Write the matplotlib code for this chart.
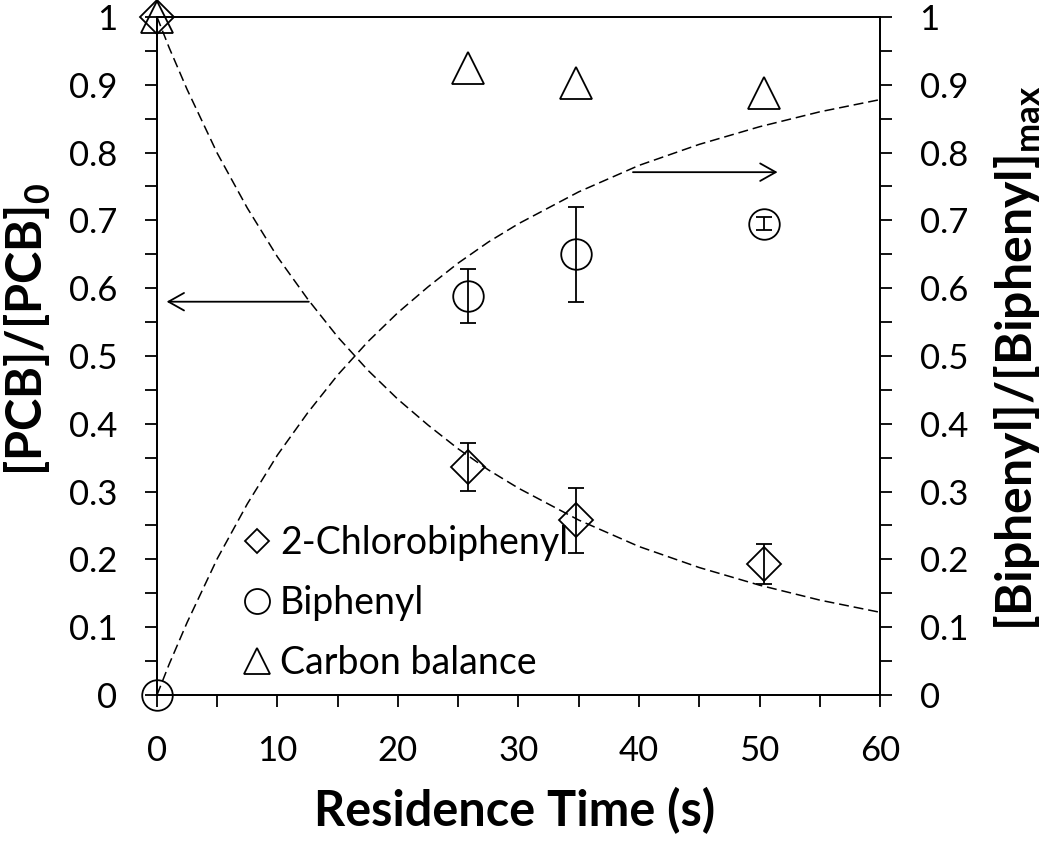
import matplotlib
matplotlib.use("Agg")
import matplotlib.pyplot as plt
from matplotlib.lines import Line2D
from matplotlib.ticker import MultipleLocator

plt.rcParams['font.family'] = ['Lato', 'DejaVu Sans']

# measured points
time_s = [0, 25.8, 34.8, 50.4]
chloro = [1.0, 0.336, 0.258, 0.193]
chloro_err = [0.0, 0.035, 0.048, 0.029]
biphenyl = [0.0, 0.588, 0.650, 0.695]
biphenyl_err = [0.0, 0.040, 0.070, 0.010]
carbon = [1.0, 0.925, 0.903, 0.888]

# model curves
fit_t = [0, 1, 2.5, 5, 7.5, 10, 12.5, 15, 17.5, 20, 22.5, 25, 27.5, 30,
         35, 40, 45, 50, 55, 60]
fit_pcb = [1.0, 0.955, 0.893, 0.799, 0.718, 0.646, 0.584, 0.528, 0.479,
           0.436, 0.398, 0.363, 0.332, 0.305, 0.258, 0.219, 0.188, 0.162,
           0.140, 0.122]
fit_biphenyl = [0.0, 0.045, 0.107, 0.201, 0.282, 0.354, 0.416, 0.472,
                0.521, 0.564, 0.602, 0.637, 0.668, 0.695, 0.742, 0.781,
                0.812, 0.838, 0.860, 0.878]

x_ticks = [0, 10, 20, 30, 40, 50, 60]
y_ticks = [0, 0.1, 0.2, 0.3, 0.4, 0.5, 0.6, 0.7, 0.8, 0.9, 1.0]
y_tick_labels = ['0', '0.1', '0.2', '0.3', '0.4', '0.5', '0.6', '0.7',
                 '0.8', '0.9', '1']

fig = plt.figure(figsize=(10.5, 8.44), dpi=100)
ax = fig.add_axes([0.1495, 0.1765, 0.6886, 0.8035])
ax2 = ax.twinx()

dash = (0, (6.5, 3.2))
ax.plot(fit_t, fit_pcb, color='black', lw=1.1, linestyle=dash)
ax.plot(fit_t, fit_biphenyl, color='black', lw=1.1, linestyle=dash)

ax.errorbar(time_s[1:], chloro[1:], yerr=chloro_err[1:], fmt='none',
            ecolor='black', elinewidth=1.3, capsize=6, capthick=1.3)
ax.errorbar(time_s[1:], biphenyl[1:], yerr=biphenyl_err[1:], fmt='none',
            ecolor='black', elinewidth=1.3, capsize=6, capthick=1.3)

mk = dict(linestyle='none', mfc='none', mec='black', mew=1.3,
          clip_on=False, zorder=5)
ax.plot(time_s, chloro, marker='D', ms=17.5, **mk)
ax.plot(time_s, biphenyl, marker='o', ms=22, **mk)
ax.plot(time_s, carbon, marker='^', ms=23.5, **mk)

arrow = dict(arrowstyle='->,head_length=0.8,head_width=0.45', lw=1.3,
             color='black', mutation_scale=14, shrinkA=0, shrinkB=0)
ax.annotate('', xy=(0.8, 0.58), xytext=(12.6, 0.58), arrowprops=arrow)
ax.annotate('', xy=(51.5, 0.771), xytext=(39.5, 0.771), arrowprops=arrow)

for a in (ax, ax2):
    a.set_xlim(0, 60)
    a.set_ylim(0, 1)
    a.set_yticks(y_ticks)
    a.set_yticklabels(y_tick_labels)
    a.yaxis.set_minor_locator(MultipleLocator(0.05))
    a.tick_params(axis='both', which='both', direction='out', length=8.5,
                  width=1.3, labelsize=25, pad=20)
    for s in a.spines.values():
        s.set_linewidth(1.3)

ax.set_xticks(x_ticks)
ax.xaxis.set_minor_locator(MultipleLocator(5))

ax.set_xlabel('Residence Time (s)', fontsize=35, fontweight='bold')
ax.xaxis.set_label_coords(0.495, -0.135)
ax.set_ylabel('[PCB]/[PCB]$_\\mathregular{0}$', fontsize=35,
              fontweight='bold')
ax.yaxis.set_label_coords(-0.144, 0.54)
ax2.set_ylabel('[Biphenyl]/[Biphenyl]$_\\mathregular{max}$', fontsize=36,
               fontweight='bold')
ax2.yaxis.set_label_coords(1.156, 0.497)

handles = [
    Line2D([], [], linestyle='none', marker='D', ms=12.7, mfc='none',
           mec='black', mew=1.3),
    Line2D([], [], linestyle='none', marker='o', ms=18, mfc='none',
           mec='black', mew=1.3),
    Line2D([], [], linestyle='none', marker='^', ms=18.7, mfc='none',
           mec='black', mew=1.3),
]
ax.legend(handles, ['2-Chlorobiphenyl', 'Biphenyl', 'Carbon balance'],
          loc='upper left', bbox_to_anchor=(0.112, 0.250), frameon=False,
          fontsize=27, handlelength=1.0, handletextpad=0.12,
          labelspacing=0.63, borderpad=0.0, borderaxespad=0.0)

fig.savefig('out.png', dpi=100)
